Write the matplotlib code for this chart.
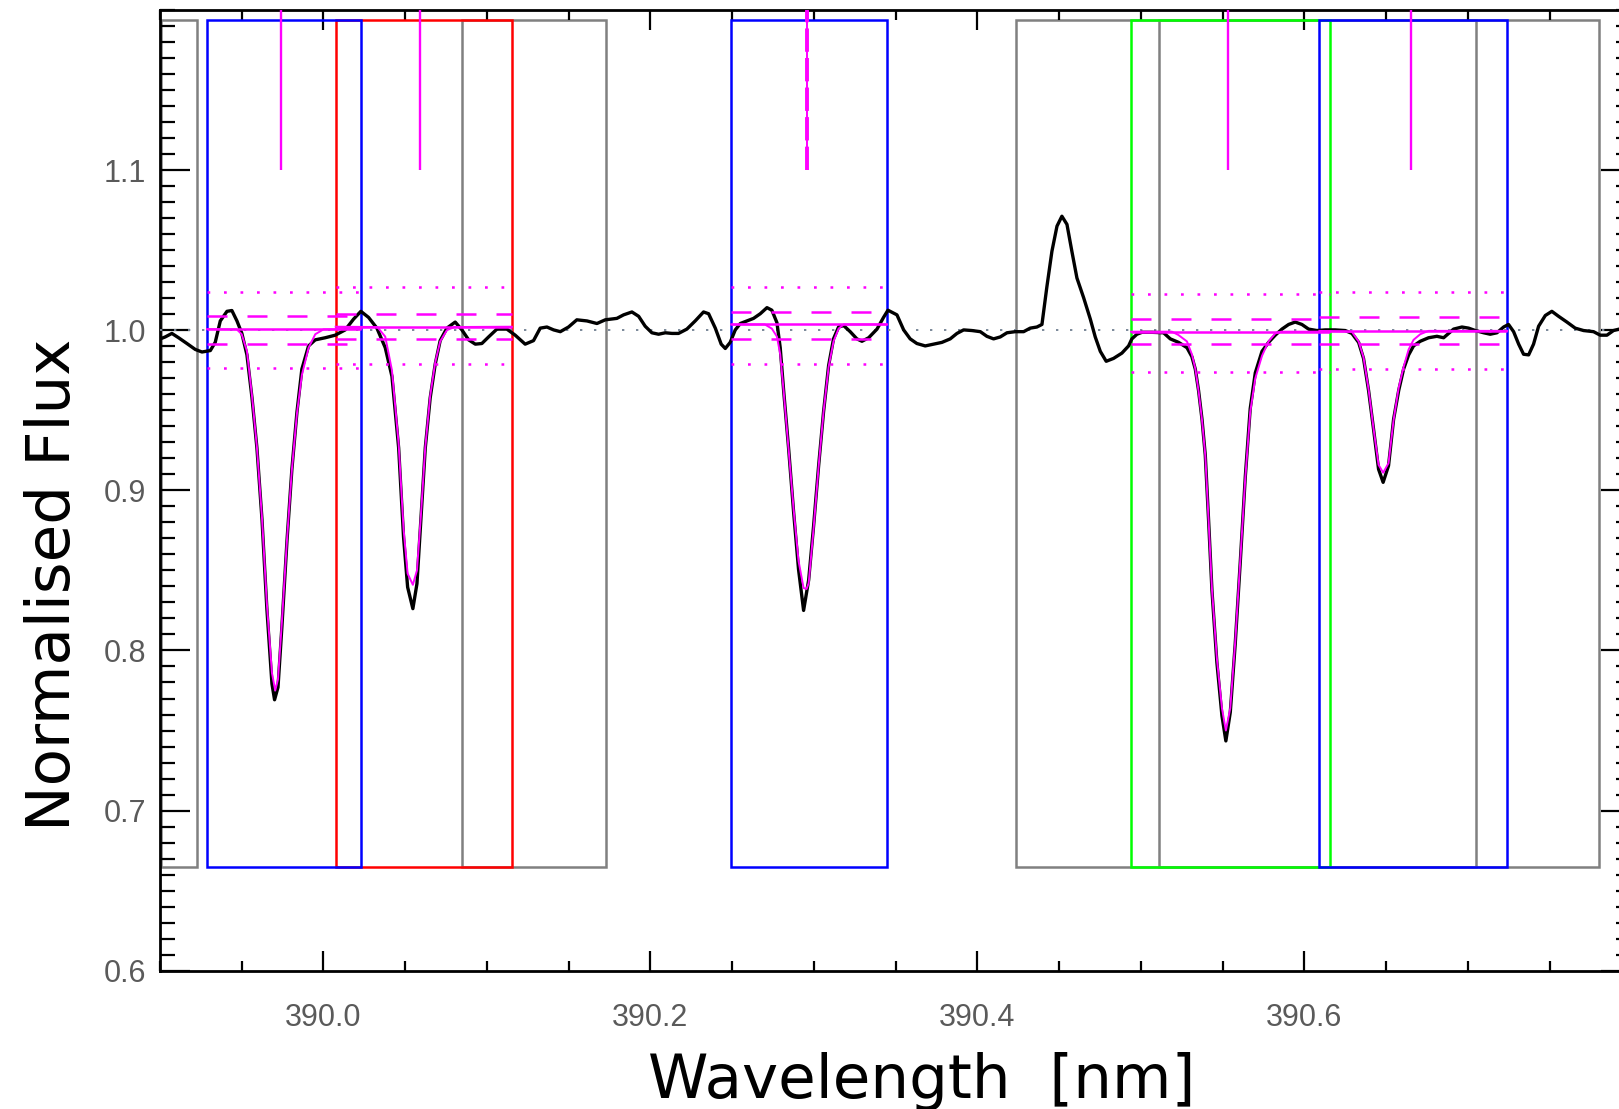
import matplotlib.pyplot as plt
from matplotlib.patches import Rectangle
from matplotlib.ticker import MultipleLocator, FormatStrFormatter

# observed spectrum, wavelength [nm] and normalised flux
wave = [389.9002, 389.9032, 389.9073, 389.9114, 389.9165, 389.9216, 389.9257, 389.9308,
        389.9338, 389.9369, 389.9410, 389.9440, 389.9471, 389.9501, 389.9532, 389.9563,
        389.9593, 389.9624, 389.9654, 389.9685, 389.9701, 389.9722, 389.9746, 389.9777,
        389.9807, 389.9838, 389.9868, 389.9909, 389.9950, 390.0011, 390.0072, 390.0133,
        390.0184, 390.0229, 390.0276, 390.0327, 390.0378, 390.0419, 390.0460, 390.0490,
        390.0515, 390.0547, 390.0572, 390.0596, 390.0623, 390.0653, 390.0684, 390.0714,
        390.0755, 390.0806, 390.0847, 390.0888, 390.0929, 390.0969, 390.1010, 390.1061,
        390.1122, 390.1173, 390.1234, 390.1285, 390.1326, 390.1367, 390.1408, 390.1449,
        390.1499, 390.1550, 390.1612, 390.1673, 390.1724, 390.1795, 390.1836, 390.1887,
        390.1928, 390.1968, 390.2009, 390.2050, 390.2091, 390.2132, 390.2172, 390.2223,
        390.2274, 390.2325, 390.2356, 390.2397, 390.2433, 390.2458, 390.2488, 390.2519,
        390.2550, 390.2590, 390.2631, 390.2672, 390.2713, 390.2743, 390.2774, 390.2794,
        390.2815, 390.2845, 390.2876, 390.2906, 390.2937, 390.2968, 390.2998, 390.3029,
        390.3059, 390.3090, 390.3120, 390.3151, 390.3182, 390.3222, 390.3263, 390.3294,
        390.3335, 390.3386, 390.3426, 390.3453, 390.3508, 390.3549, 390.3589, 390.3630,
        390.3681, 390.3732, 390.3783, 390.3834, 390.3875, 390.3916, 390.3967, 390.4018,
        390.4058, 390.4099, 390.4140, 390.4181, 390.4232, 390.4283, 390.4323, 390.4364,
        390.4395, 390.4425, 390.4456, 390.4487, 390.4517, 390.4548, 390.4578, 390.4609,
        390.4650, 390.4691, 390.4721, 390.4752, 390.4788, 390.4833, 390.4884, 390.4925,
        390.4945, 390.4976, 390.5007, 390.5068, 390.5139, 390.5180, 390.5231, 390.5282,
        390.5312, 390.5333, 390.5353, 390.5374, 390.5394, 390.5414, 390.5435, 390.5465,
        390.5496, 390.5520, 390.5547, 390.5577, 390.5608, 390.5639, 390.5669, 390.5700,
        390.5741, 390.5781, 390.5822, 390.5863, 390.5904, 390.5944, 390.5985, 390.6026,
        390.6077, 390.6128, 390.6189, 390.6250, 390.6291, 390.6332, 390.6362, 390.6393,
        390.6424, 390.6454, 390.6482, 390.6515, 390.6546, 390.6577, 390.6607, 390.6638,
        390.6668, 390.6709, 390.6760, 390.6811, 390.6852, 390.6883, 390.6913, 390.6964,
        390.7005, 390.7046, 390.7097, 390.7137, 390.7178, 390.7219, 390.7249, 390.7280,
        390.7311, 390.7341, 390.7372, 390.7402, 390.7433, 390.7474, 390.7514, 390.7555,
        390.7606, 390.7657, 390.7708, 390.7769, 390.7810, 390.7851, 390.7891, 390.7926]
flux = [0.9946, 0.9958, 0.9980, 0.9953, 0.9917, 0.9880, 0.9864, 0.9873,
        0.9924, 1.0058, 1.0118, 1.0123, 1.0058, 0.9980, 0.9846, 0.9578,
        0.9266, 0.8820, 0.8260, 0.7792, 0.7692, 0.7770, 0.8150, 0.8685,
        0.9132, 0.9489, 0.9757, 0.9902, 0.9940, 0.9953, 0.9969, 1.0002,
        1.0069, 1.0118, 1.0080, 1.0013, 0.9891, 0.9712, 0.9266, 0.8708,
        0.8395, 0.8261, 0.8417, 0.8820, 0.9266, 0.9578, 0.9790, 0.9935,
        1.0013, 1.0051, 1.0002, 0.9940, 0.9913, 0.9917, 0.9958, 1.0007,
        1.0007, 0.9969, 0.9913, 0.9935, 1.0013, 1.0020, 1.0002, 0.9991,
        1.0020, 1.0065, 1.0058, 1.0042, 1.0065, 1.0074, 1.0096, 1.0114,
        1.0087, 1.0025, 0.9984, 0.9975, 0.9984, 0.9980, 0.9980, 1.0007,
        1.0058, 1.0114, 1.0103, 1.0013, 0.9913, 0.9886, 0.9924, 1.0002,
        1.0042, 1.0058, 1.0074, 1.0103, 1.0141, 1.0125, 1.0047, 0.9891,
        0.9623, 0.9266, 0.8864, 0.8507, 0.8250, 0.8440, 0.8775, 0.9154,
        0.9489, 0.9779, 0.9946, 1.0020, 1.0029, 0.9991, 0.9946, 0.9931,
        0.9953, 1.0007, 1.0080, 1.0125, 1.0096, 1.0002, 0.9946, 0.9917,
        0.9902, 0.9913, 0.9924, 0.9946, 0.9980, 1.0002, 0.9998, 0.9991,
        0.9962, 0.9946, 0.9958, 0.9984, 0.9991, 0.9991, 1.0013, 1.0020,
        1.0036, 1.0270, 1.0493, 1.0650, 1.0712, 1.0661, 1.0493, 1.0326,
        1.0203, 1.0069, 0.9958, 0.9868, 0.9806, 0.9824, 0.9857, 0.9902,
        0.9946, 0.9975, 0.9987, 0.9987, 0.9984, 0.9946, 0.9924, 0.9891,
        0.9835, 0.9757, 0.9623, 0.9444, 0.9221, 0.8820, 0.8373, 0.7926,
        0.7592, 0.7435, 0.7614, 0.8038, 0.8551, 0.9087, 0.9511, 0.9734,
        0.9868, 0.9924, 0.9969, 1.0007, 1.0036, 1.0051, 1.0036, 1.0007,
        0.9998, 1.0002, 1.0002, 0.9998, 0.9980, 0.9924, 0.9824, 0.9623,
        0.9377, 0.9132, 0.9050, 0.9154, 0.9444, 0.9623, 0.9757, 0.9846,
        0.9902, 0.9931, 0.9953, 0.9962, 0.9953, 0.9980, 1.0007, 1.0020,
        1.0013, 0.9998, 0.9984, 0.9975, 0.9984, 1.0020, 1.0036, 0.9991,
        0.9913, 0.9850, 0.9846, 0.9913, 1.0025, 1.0092, 1.0118, 1.0087,
        1.0051, 1.0013, 0.9998, 0.9991, 0.9969, 0.9969, 0.9998, 1.0007]

# windows (left, right) [nm]
gray_windows = [(389.9005, 389.9225), (390.0846, 390.1726), (390.4236, 390.7050), (390.5110, 390.7804)]
red_windows = [(390.0075, 390.1152)]
green_windows = [(390.4940, 390.6154)]
blue_windows = [(389.9288, 390.0228), (390.2494, 390.3448), (390.6092, 390.7240)]
window_bottom = 0.665
window_top = 1.194

# line positions marked at the top
line_centres = [389.9743, 390.0590, 390.5532, 390.6652]
blended_centre = [390.2957]
marker_bottom = 1.1

# continuum level and +-1 / +-2 sigma for each fitted window
fit_left = [389.9288, 390.0075, 390.2494, 390.4940, 390.6092]
fit_right = [390.0228, 390.1152, 390.3448, 390.6154, 390.7240]
cont_level = [1.0007, 1.0022, 1.0036, 0.9991, 0.9996]
sig1_hi = [1.0087, 1.0103, 1.0114, 1.0069, 1.0085]
sig1_lo = [0.9917, 0.9946, 0.9946, 0.9917, 0.9917]
sig2_hi = [1.0237, 1.0270, 1.0270, 1.0225, 1.0237]
sig2_lo = [0.9761, 0.9790, 0.9790, 0.9741, 0.9757]

# fitted profiles
fit1_wave = [389.9288, 389.9470, 389.9500, 389.9532, 389.9563, 389.9593, 389.9624, 389.9654, 389.9685,
             389.9705, 389.9722, 389.9746, 389.9777, 389.9807, 389.9838, 389.9868, 389.9909, 389.9950,
             390.0000, 390.0228]
fit1_flux = [1.0007, 1.0005, 0.9975, 0.9870, 0.9590, 0.9270, 0.8830, 0.8290, 0.7860,
             0.7750, 0.7820, 0.8180, 0.8690, 0.9130, 0.9480, 0.9720, 0.9890, 0.9975,
             1.0005, 1.0007]
fit2_wave = [390.0075, 390.0330, 390.0378, 390.0419, 390.0460, 390.0490, 390.0515, 390.0547, 390.0572,
             390.0596, 390.0623, 390.0653, 390.0684, 390.0714, 390.0755, 390.0800, 390.1152]
fit2_flux = [1.0022, 1.0020, 0.9960, 0.9750, 0.9290, 0.8760, 0.8480, 0.8410, 0.8500,
             0.8840, 0.9270, 0.9590, 0.9800, 0.9930, 1.0000, 1.0020, 1.0022]
fit3_wave = [390.2494, 390.2700, 390.2743, 390.2774, 390.2794, 390.2815, 390.2845, 390.2876, 390.2906,
             390.2937, 390.2955, 390.2968, 390.2998, 390.3029, 390.3059, 390.3090, 390.3120, 390.3151,
             390.3182, 390.3448]
fit3_flux = [1.0036, 1.0036, 1.0010, 0.9960, 0.9850, 0.9620, 0.9260, 0.8880, 0.8560,
             0.8390, 0.8384, 0.8420, 0.8760, 0.9150, 0.9490, 0.9770, 0.9930, 1.0010,
             1.0036, 1.0036]
fit4_wave = [390.4940, 390.5190, 390.5230, 390.5282, 390.5312, 390.5333, 390.5353, 390.5374, 390.5394,
             390.5414, 390.5435, 390.5465, 390.5496, 390.5520, 390.5547, 390.5577, 390.5608, 390.5639,
             390.5669, 390.5700, 390.5741, 390.5781, 390.5822, 390.5860, 390.6154]
fit4_flux = [0.9991, 0.9991, 0.9970, 0.9930, 0.9850, 0.9760, 0.9620, 0.9440, 0.9220,
             0.8820, 0.8380, 0.7950, 0.7640, 0.7500, 0.7640, 0.8050, 0.8560, 0.9080,
             0.9490, 0.9700, 0.9840, 0.9930, 0.9980, 0.9991, 0.9991]
fit5_wave = [390.6092, 390.6291, 390.6332, 390.6362, 390.6393, 390.6424, 390.6454, 390.6482, 390.6515,
             390.6546, 390.6577, 390.6607, 390.6638, 390.6668, 390.6709, 390.6760, 390.7240]
fit5_flux = [0.9996, 0.9990, 0.9930, 0.9830, 0.9630, 0.9380, 0.9160, 0.9110, 0.9170,
             0.9440, 0.9640, 0.9770, 0.9880, 0.9940, 0.9975, 0.9996, 0.9996]

MAGENTA = '#FF00FF'

plt.rcParams['font.family'] = ['Liberation Sans Narrow', 'Liberation Sans', 'DejaVu Sans']

fig = plt.figure(figsize=(16.19, 11.09), dpi=100)
# the right spine sits just past the picture edge, as in the original
ax = fig.add_axes([0.0988, 0.1247, 0.9088, 0.8663])

# windows: gray first, then red / green, blue on top
for windows, col, z in [(gray_windows, '#808080', 1), (red_windows, '#FF0000', 2),
                        (green_windows, '#00FF00', 2), (blue_windows, '#0000FF', 3)]:
    for left, right in windows:
        ax.add_patch(Rectangle((left, window_bottom), right - left, window_top - window_bottom,
                               fill=False, edgecolor=col, linewidth=1.8, zorder=z))

ax.axhline(1.0, color='#7a8899', linewidth=1.4, linestyle=(0, (1.2, 6)), zorder=3.5)

ax.plot(wave, flux, color='black', linewidth=2.4, zorder=4)

# continuum and error levels
ax.hlines(cont_level, fit_left, fit_right, colors=MAGENTA, linewidth=1.8, zorder=5)
ax.hlines(sig1_hi + sig1_lo, fit_left + fit_left, fit_right + fit_right, colors=MAGENTA,
          linewidth=1.8, linestyles=[(0, (8, 8))], zorder=5)
ax.hlines(sig2_hi + sig2_lo, fit_left + fit_left, fit_right + fit_right, colors=MAGENTA,
          linewidth=1.8, linestyles=[(0, (1.1, 5.5))], zorder=5)

for fw, ff in [(fit1_wave, fit1_flux), (fit2_wave, fit2_flux), (fit3_wave, fit3_flux),
               (fit4_wave, fit4_flux), (fit5_wave, fit5_flux)]:
    ax.plot(fw, ff, color=MAGENTA, linewidth=1.4, zorder=6)

ax.vlines(line_centres, marker_bottom, 1.2, colors=MAGENTA, linewidth=1.7, zorder=6)
ax.vlines(blended_centre, marker_bottom, 1.2, colors=MAGENTA, linewidth=1.4, zorder=6)
ax.vlines(blended_centre, marker_bottom, 1.2, colors=MAGENTA, linewidth=2.8,
          linestyles=[(0, (6, 1.6))], zorder=6)

ax.set_xlim(389.9, 390.8)
ax.set_ylim(0.6, 1.2)
ax.set_xticks([390.0, 390.2, 390.4, 390.6])
ax.set_yticks([0.6, 0.7, 0.8, 0.9, 1.0, 1.1])
ax.xaxis.set_minor_locator(MultipleLocator(0.05))
ax.yaxis.set_minor_locator(MultipleLocator(0.01))
ax.xaxis.set_major_formatter(FormatStrFormatter('%.1f'))
ax.yaxis.set_major_formatter(FormatStrFormatter('%.1f'))

ax.tick_params(which='both', direction='in', top=True, right=True, width=1.6, color='black')
ax.tick_params(axis='x', which='major', length=14.5, pad=23, labelsize=22, labelcolor='#5a5a5a')
ax.tick_params(axis='x', which='minor', length=7.5)
ax.tick_params(axis='y', which='major', length=21.5, pad=10, labelsize=22, labelcolor='#5a5a5a')
ax.tick_params(axis='y', which='minor', length=10.5)
for s in ax.spines.values():
    s.set_linewidth(2.0)

fig.text(922 / 1619, 0.0103, 'Wavelength  [nm]', fontsize=44, ha='center', va='baseline',
         family='DejaVu Sans')
fig.text(70 / 1619, 1 - 585 / 1109, 'Normalised Flux', fontsize=44, rotation=90,
         rotation_mode='anchor', ha='center', va='baseline', family='DejaVu Sans')

fig.savefig('out.png', dpi=100)
